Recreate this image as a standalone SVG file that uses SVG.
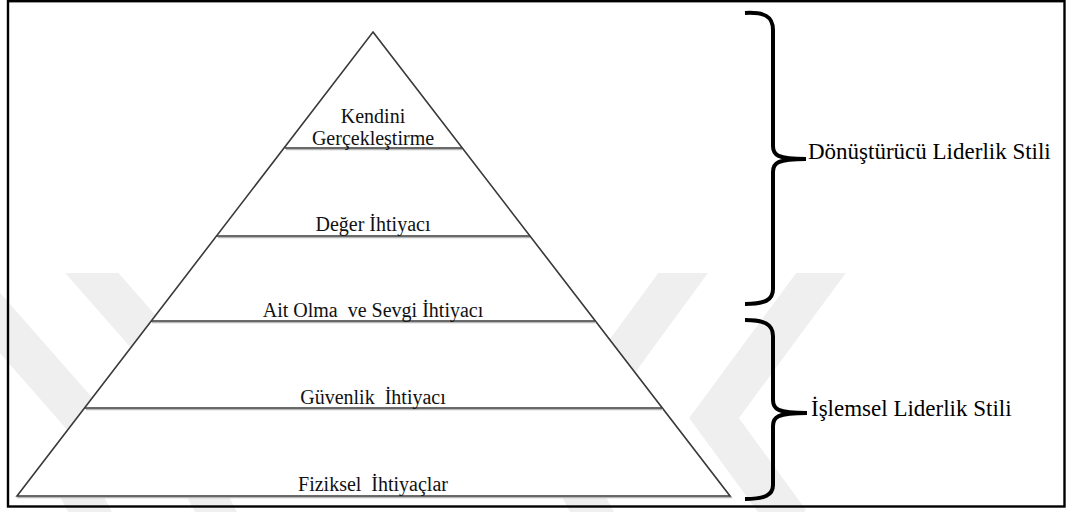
<svg xmlns="http://www.w3.org/2000/svg" width="1069" height="512" viewBox="0 0 1069 512">
  <style>
    text { font-family: "Liberation Serif", "DejaVu Serif", "Noto Serif", "Times New Roman", Times, serif; }
    .lbl { font-size: 20px; fill: #111; text-anchor: middle; white-space: pre; }
    .side { font-size: 23px; fill: #000; text-anchor: start; }
    .edge { stroke: #3a3a3a; stroke-width: 1.6; fill: none; }
    .body { fill: #fff; }
    .shade { stroke: #b8b8b8; stroke-width: 1.6; fill: none; }
    .brace { stroke: #000; stroke-width: 4; fill: none; stroke-linejoin: miter; }
    .wm { stroke: #efefef; stroke-width: 40; fill: none; stroke-linejoin: miter; }
    .wmfill { fill: #efefef; }
  </style>
  <defs>
    <clipPath id="wmClip">
      <rect x="0" y="273" width="1069" height="239"/>
    </clipPath>
  </defs>

  <rect x="0" y="0" width="1069" height="512" fill="#fff"/>

  <!-- faint background chevrons -->
  <g id="watermark" clip-path="url(#wmClip)">
    <path class="wm" d="M-50,266 L94,430"/>
    <path class="wm" d="M76,255 L250,453"/>
    <path class="wm" d="M700,250 L577,418 L600,460"/>
    <path class="wm" d="M838,250 L714,418 L790,522"/>
    <polygon class="wmfill" points="60,497 104,497 112,512 68,512"/>
    <polygon class="wmfill" points="187,497 229,497 237,512 195,512"/>
    <polygon class="wmfill" points="562,497 606,497 614,512 570,512"/>
  </g>

  <!-- outer frame -->
  <rect id="frame" x="8" y="1.2" width="1056.5" height="505.3" fill="none" stroke="#000" stroke-width="2.4"/>

  <!-- pyramid outline: white body covers the background chevrons -->
  <g id="pyramid">
    <polygon class="shade" points="374,33.5 731,497.5 18,497.5"/>
    <polygon class="body" points="373,32 730,496 17,496"/>
    <polygon class="edge" points="373,32 730,496 17,496"/>
  </g>

  <g id="tier-self-actualization">
    <line class="shade" x1="286" y1="149.5" x2="462" y2="149.5"/>
    <line class="edge" x1="285" y1="148" x2="462" y2="148"/>
    <text class="lbl" x="373" y="123">Kendini</text>
    <text class="lbl" x="373" y="145">Gerçekleştirme</text>
  </g>

  <g id="tier-esteem">
    <line class="shade" x1="218" y1="237.5" x2="530" y2="237.5"/>
    <line class="edge" x1="216.5" y1="236" x2="530" y2="236"/>
    <text class="lbl" x="373" y="231">Değer İhtiyacı</text>
  </g>

  <g id="tier-belonging">
    <line class="shade" x1="152" y1="322.5" x2="596" y2="322.5"/>
    <line class="edge" x1="151" y1="321" x2="596" y2="321"/>
    <text class="lbl" x="373" y="317">Ait Olma  ve Sevgi İhtiyacı</text>
  </g>

  <g id="tier-safety">
    <line class="shade" x1="86" y1="409.5" x2="663" y2="409.5"/>
    <line class="edge" x1="85" y1="408" x2="663" y2="408"/>
    <text class="lbl" x="373" y="404">Güvenlik  İhtiyacı</text>
  </g>

  <g id="tier-physiological">
    <text class="lbl" x="373" y="491">Fiziksel  İhtiyaçlar</text>
  </g>

  <!-- braces grouping the tiers -->
  <g id="connectors">
    <path class="brace" d="M745,13 C764,12 773,16 773,30 L773,146 C773,155 777,159 806,159 C777,159 773,163 773,172 L773,289 C773,300 765,304 745,304"/>
    <path class="brace" d="M745,320 C764,320 773,324 773,336 L773,400 C773,409 777,413 807,413 C777,413 773,417 773,426 L773,485 C773,495 765,499 745,499"/>
  </g>

  <g id="label-transformational">
    <text class="side" x="808" y="159">Dönüştürücü Liderlik Stili</text>
  </g>
  <g id="label-transactional">
    <text class="side" x="811" y="416">İşlemsel Liderlik Stili</text>
  </g>
</svg>
